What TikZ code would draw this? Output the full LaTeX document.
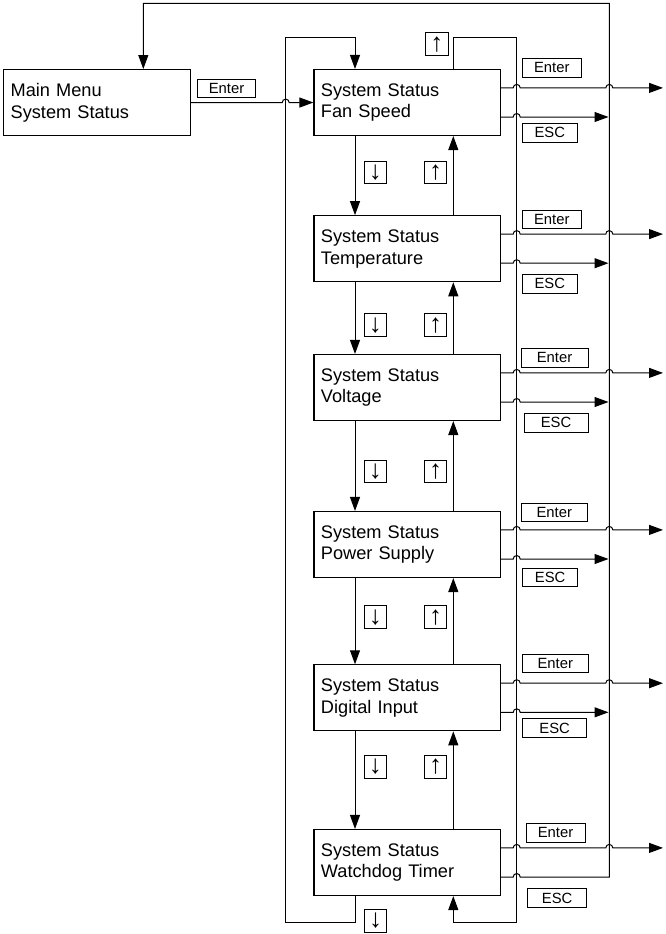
\documentclass[tikz,border=0pt]{standalone}
\usepackage{fontspec}
\setmainfont{Liberation Sans}
\usetikzlibrary{arrows.meta}

\tikzset{
  statbox/.style={draw, line width=1.1pt, text width=172.7pt, inner xsep=7pt, minimum height=66pt, align=left, font=\fontsize{18.2}{21.7}\selectfont},
  keybox/.style={draw, line width=0.9pt, inner sep=0pt, minimum height=18.3pt, font=\fontsize{14.8}{16}\selectfont},
  arrbox/.style={draw, line width=0.9pt, inner sep=0pt, minimum size=22.7pt, font=\fontsize{26}{26}\selectfont},
  link/.style={line width=1pt, -{Triangle[length=14pt,width=10pt]}},
  hop/.style={start angle=180, end angle=0, radius=3.5pt}
}

\begin{document}
\begin{tikzpicture}[x=1pt, y=-1pt]
  \useasboundingbox (0,0) rectangle (665,934);
  \node[statbox] (main) at (97,102.6) {Main Menu\\System Status};
  \node[keybox, minimum width=57.6] (enter0) at (226.5,88.2) {Enter};
  \foreach \i/\txt/\y/\ex/\ey/\ew/\sx/\sy/\sw in {
      1/Fan Speed/102.5/551.8/67.9/58.3/549.8/132.9/54.3,
      2/Temperature/248.7/551.8/219.2/58.3/549.8/283.9/54.3,
      3/Voltage/387.5/554.5/357.9/67/556/422.9/64,
      4/Power Supply/544.5/554.3/512.2/66.7/550.2/577.5/55,
      5/Digital Input/697.8/555.3/663.4/65.3/554.7/728/64,
      6/Watchdog Timer/862.5/555.5/832.9/59/557.2/897.9/59} {
    \node[statbox] (st\i) at (407.3,\y) {System Status\\\txt};
    \node[keybox, minimum width=\ew] (enter\i) at (\ex,\ey) {Enter};
    \node[keybox, minimum width=\sw] (esc\i) at (\sx,\sy) {ESC};
    \coordinate (out\i) at (663,\y-14.6);
    \draw[link] ([yshift=14.6pt]st\i.east) -- (513.2,\y-14.6) arc[hop] -- (605.8,\y-14.6) arc[hop] -- (out\i);
    \ifnum\i<6
      \coordinate (back\i) at (608.5,\y+14.5);
      \draw[link] ([yshift=-14.5pt]st\i.east) -- (513.2,\y+14.5) arc[hop] -- (back\i);
    \fi
  }
  \foreach \j/\k/\ly in {1/2/172.5, 2/3/325.2, 3/4/471.3, 4/5/617.2, 5/6/766.8} {
    \draw[link] ([xshift=-52.3pt]st\j.south) -- ([xshift=-52.3pt]st\k.north);
    \draw[link] ([xshift=46pt]st\k.north) -- ([xshift=46pt]st\j.south);
    \node[arrbox] (dn\j) at (375.4,\ly) {↓};
    \node[arrbox] (up\j) at (435.5,\ly) {↑};
  }
  \node[arrbox] (uptop) at (436.8,44.2) {↑};
  \node[arrbox] (dnbot) at (375.5,920.8) {↓};
  \coordinate (lb) at (285.7,922.7);
  \coordinate (lt) at (285.7,37.7);
  \coordinate (rt) at (516.7,37.7);
  \coordinate (rb) at (516.7,922.7);
  \coordinate (et) at (609.3,3.3);
  \coordinate (eb) at (609.3,877);
  \draw[link] (main.east) -- (282.2,102.6) arc[hop] -- (st1.west);
  \draw[link] ([xshift=-52.3pt]st6.south) |- (lb) -- (lt) -| ([xshift=-52.3pt]st1.north);
  \draw[link] ([xshift=46pt]st1.north) |- (rt) -- (rb) -| ([xshift=46pt]st6.south);
  \draw[link] ([yshift=-14.5pt]st6.east) -- (513.2,877) arc[hop] -- (eb) -- (et) -| ([xshift=46.3pt]main.north);
\end{tikzpicture}
\end{document}
